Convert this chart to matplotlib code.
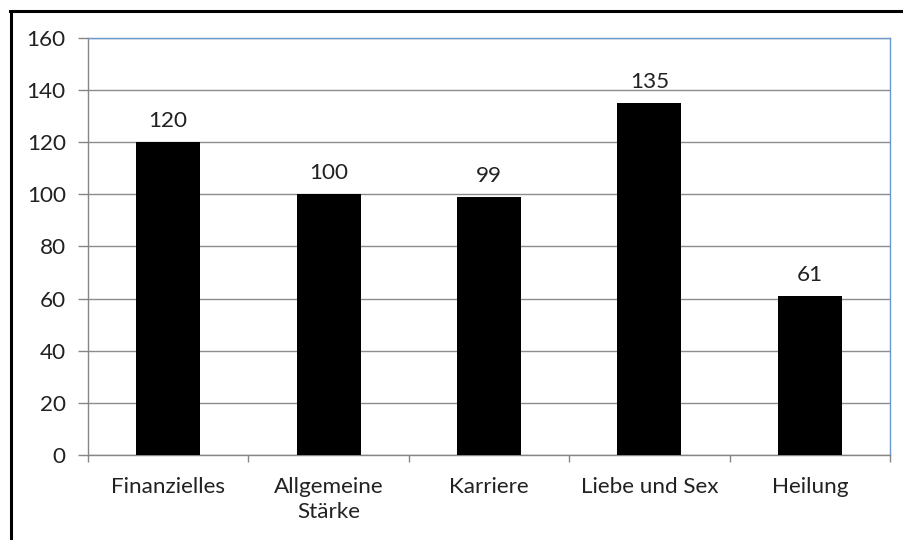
import matplotlib
matplotlib.use("Agg")
import matplotlib.pyplot as plt
from matplotlib.lines import Line2D

categories = ["Finanzielles", "Allgemeine\nStärke", "Karriere", "Liebe und Sex", "Heilung"]
values = [120, 100, 99, 135, 61]
yTicks = [0, 20, 40, 60, 80, 100, 120, 140, 160]

plt.rcParams["font.family"] = ["Lato", "DejaVu Sans"]
fontSize = 16.2

fig = plt.figure(figsize=(9.04, 5.4), dpi=100, facecolor="white")
ax = fig.add_axes([88 / 904, 1 - 455 / 540, (890 - 88) / 904, (455 - 38) / 540])

positions = list(range(len(categories)))
bars = ax.bar(positions, values, width=0.4, color="black", zorder=3)

for bar, value in zip(bars, values):            # value labels above bars
    ax.annotate(str(value), (bar.get_x() + bar.get_width() / 2, bar.get_height()),
                xytext=(0, 8), textcoords="offset points", ha="center", va="bottom",
                fontsize=fontSize, color="#222222")

ax.set_xlim(-0.5, len(categories) - 0.5)
ax.set_ylim(0, 160)
ax.set_yticks(yTicks)
ax.set_xticks(positions)
ax.set_xticklabels(categories, fontsize=fontSize, color="#222222", linespacing=1.3)
ax.set_xticks([p + 0.5 for p in [-1] + positions], minor=True)
ax.tick_params(axis="x", which="major", length=0, pad=16)
ax.tick_params(axis="x", which="minor", length=5, color="#868686", width=1)
ax.tick_params(axis="y", length=7, color="#868686", width=1, labelsize=fontSize, labelcolor="#222222", pad=9)

ax.grid(axis="y", color="#8C8C8C", linewidth=1, zorder=0)
ax.set_axisbelow(True)

ax.spines["left"].set_color("#868686")
ax.spines["bottom"].set_color("#868686")
ax.spines["top"].set_color("#6A98D0")
ax.spines["right"].set_color("#6A98D0")
for s in ax.spines.values():
    s.set_linewidth(1)

# outer frame on left and top edge
fig.add_artist(Line2D([10.5 / 904, 10.5 / 904], [0, 1 - 10.5 / 540], color="black", linewidth=2.2, transform=fig.transFigure))
fig.add_artist(Line2D([9.5 / 904, 1], [1 - 10.5 / 540, 1 - 10.5 / 540], color="black", linewidth=2.2, transform=fig.transFigure))

plt.savefig("out.png", dpi=100, facecolor="white")
plt.close()
